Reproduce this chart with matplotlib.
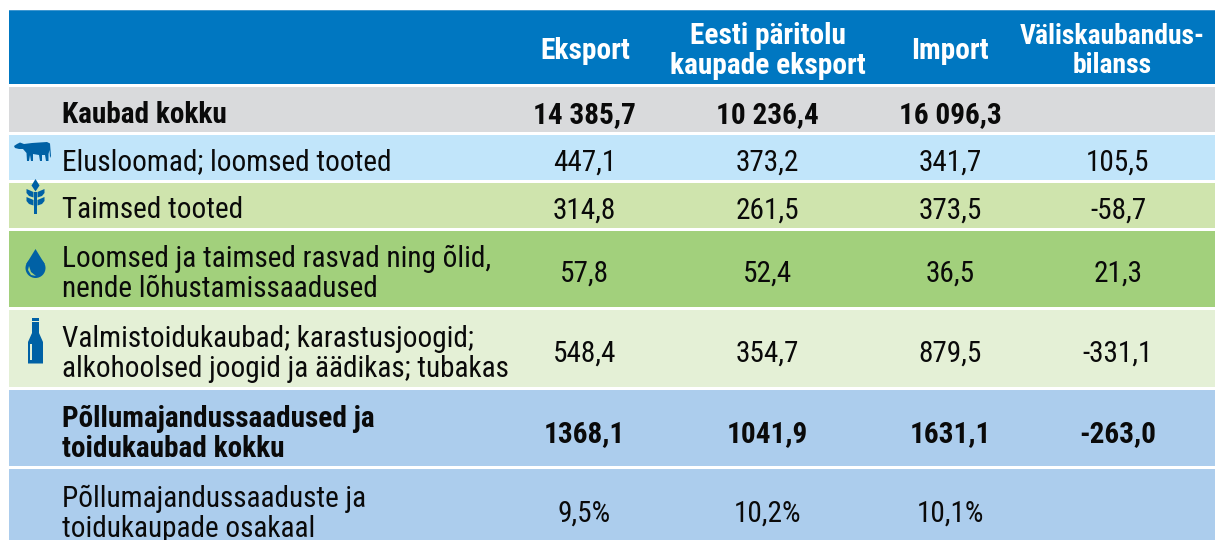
import matplotlib
matplotlib.use("Agg")
import matplotlib.pyplot as plt
from matplotlib.patches import Circle, Polygon, Rectangle

# table content
col_heads = ["Eksport", "Eesti päritolu\nkaupade eksport", "Import", "Väliskaubandus-\nbilanss"]
row_labels = [
    "Kaubad kokku",
    "Elusloomad; loomsed tooted",
    "Taimsed tooted",
    "Loomsed ja taimsed rasvad ning õlid,\nnende lõhustamissaadused",
    "Valmistoidukaubad; karastusjoogid;\nalkohoolsed joogid ja äädikas; tubakas",
    "Põllumajandussaadused ja\ntoidukaubad kokku",
    "Põllumajandussaaduste ja\ntoidukaupade osakaal",
]
eksport = ["14 385,7", "447,1", "314,8", "57,8", "548,4", "1368,1", "9,5%"]
eesti = ["10 236,4", "373,2", "261,5", "52,4", "354,7", "1041,9", "10,2%"]
import_ = ["16 096,3", "341,7", "373,5", "36,5", "879,5", "1631,1", "10,1%"]
bilanss = ["", "105,5", "-58,7", "21,3", "-331,1", "-263,0", ""]
bold_rows = [0, 5]

row_colors = ["#d9dadc", "#c1e5fa", "#cfe4ad", "#a2d07c", "#e4f0d6", "#accded", "#accded"]
row_tops = [87, 135, 183, 231, 310, 390, 469]
row_bottoms = [132, 180, 228, 307, 387, 466, 540]
text_y = [115, 162.5, 210.5, 274, 354, 434, 514]
col_x = [584.5, 767.5, 950, 1118]
head_x = [585, 767.5, 949.5, 1112]
head_size = [21.2, 21.2, 21.2, 19.9]

FONT = ["Roboto Condensed", "Roboto"]
ICON = "#0061a5"
SIZE = 21.1

fig = plt.figure(figsize=(12.15, 5.4), dpi=100)
ax = fig.add_axes([0, 0, 1, 1])
ax.set_xlim(0, 1215)
ax.set_ylim(540, 0)
ax.axis("off")

ax.add_patch(Rectangle((9, 10), 1206, 74, color="#0077c1", lw=0))
ax.add_patch(Rectangle((9, 10), 1206, 1, color="#3f97d0", lw=0))
for top, bottom, color in zip(row_tops, row_bottoms, row_colors):
    ax.add_patch(Rectangle((9, top), 1206, bottom - top, color=color, lw=0))

for x, size, head in zip(head_x, head_size, col_heads):
    ax.text(x, 51, head, color="white", fontsize=size, fontweight="bold", family=FONT,
            ha="center", va="center", linespacing=1.05)

for i, label in enumerate(row_labels):
    weight = "bold" if i in bold_rows else "normal"
    ax.text(62, text_y[i], label, fontsize=SIZE, fontweight=weight, family=FONT, ha="left", va="center",
            linespacing=1.08, color="#0a0a0a")
    for x, col in zip(col_x, [eksport, eesti, import_, bilanss]):
        ax.text(x, text_y[i], col[i], fontsize=SIZE, fontweight=weight, family=FONT, ha="center", va="center",
                color="#0a0a0a")

# cow
ax.add_patch(Polygon([(14, 146), (17, 144), (20, 142.5), (24, 144), (32, 143), (47, 142), (50, 143.5),
                      (51, 156), (50, 158), (49.5, 150), (48.5, 154), (48.5, 161), (46, 161), (45, 155),
                      (42, 155), (42, 161), (40, 161), (39, 155), (33, 154), (33, 161), (31, 161),
                      (30, 155), (29, 161), (27, 161), (26.5, 153), (23, 149), (19, 149), (15, 148)],
                     color=ICON, lw=0))
# wheat
ax.add_patch(Polygon([(35.5, 179), (39.5, 185.5), (35.5, 191.5), (31.5, 185.5)], color=ICON, lw=0))
for y in (189, 197):
    ax.add_patch(Polygon([(26.5, y), (33.5, y + 3), (33.5, y + 8.5), (29, y + 7), (26.5, y + 4)], color=ICON, lw=0))
    ax.add_patch(Polygon([(44.5, y), (37.5, y + 3), (37.5, y + 8.5), (42, y + 7), (44.5, y + 4)], color=ICON, lw=0))
ax.add_patch(Rectangle((34, 192), 3, 22, color=ICON, lw=0))
# oil drop
ax.add_patch(Circle((35.5, 268), 10, color=ICON, lw=0))
ax.add_patch(Polygon([(35.5, 249), (26.3, 264), (44.7, 264)], color=ICON, lw=0))
ax.add_patch(Polygon([(29, 266), (31, 272), (36, 276), (31, 275), (28, 270)], color="#a2d07c", lw=0))
# bottle
ax.add_patch(Polygon([(32, 318), (39, 318), (39, 333), (43, 342), (43, 363.5), (28, 363.5), (28, 342), (32, 333)],
                     color=ICON, lw=0))
ax.add_patch(Rectangle((31.5, 321), 8, 1, color="#e4f0d6", lw=0))
ax.add_patch(Rectangle((30.3, 344), 1.2, 16, color="#e4f0d6", lw=0))

fig.savefig("out.png", dpi=100)
